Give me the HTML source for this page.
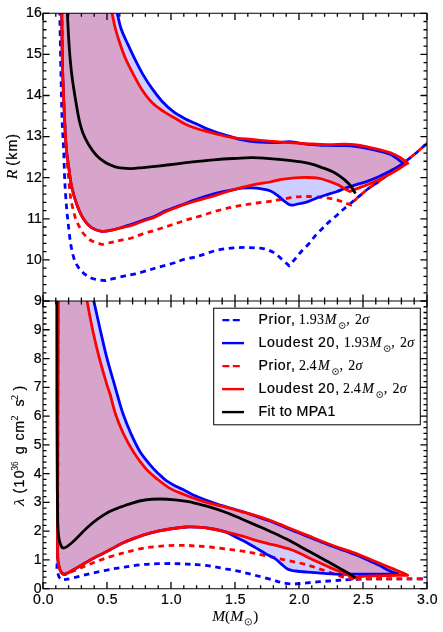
<!DOCTYPE html>
<html><head><meta charset="utf-8"><title>Mass-radius constraints</title>
<style>html,body{margin:0;padding:0;background:#fff;}svg{display:block;}text{font-family:"Liberation Sans", sans-serif;fill:#000;stroke:#000;stroke-width:0.22px;}text.m{font-family:"Liberation Serif", serif;stroke-width:0.1px;}</style></head><body>
<svg width="443" height="632" viewBox="0 0 443 632">
<rect x="0" y="0" width="443" height="632" fill="#ffffff"/>
<defs>
<clipPath id="ct"><rect x="43" y="13.3" width="384" height="287.7"/></clipPath>
<clipPath id="cb"><rect x="43" y="301" width="384" height="287.7"/></clipPath>
</defs>
<g opacity="0.999">
<g clip-path="url(#ct)" fill="none" stroke-linejoin="round">
<path d="M61.7 10C61.83 19.5 62.02 48.67 62.5 67C62.98 85.33 63.97 106.42 64.6 120C65.23 133.58 65.6 140.58 66.3 148.5C67 156.42 67.92 161.17 68.8 167.5C69.68 173.83 70.27 180.35 71.6 186.5C72.93 192.65 74.75 198.88 76.8 204.4C78.85 209.92 81.45 215.72 83.9 219.6C86.35 223.48 88.57 225.75 91.5 227.7C94.43 229.65 98.17 230.88 101.5 231.3C104.83 231.72 107.58 231.03 111.5 230.2C115.42 229.37 119.78 227.93 125 226.3C130.22 224.67 137.93 222.02 142.8 220.4C147.67 218.78 150.4 218.18 154.2 216.6C158 215.02 161.8 212.58 165.6 210.9C169.4 209.22 173.2 207.92 177 206.5C180.8 205.08 185.4 203.52 188.4 202.4C191.4 201.28 190.73 201.22 195 199.8C199.27 198.38 208.62 195.4 214 193.9C219.38 192.4 222.55 191.77 227.3 190.8C232.05 189.83 238.38 188.58 242.5 188.1C246.62 187.62 248.83 187.77 252 187.9C255.17 188.03 258.5 188.42 261.5 188.9C264.5 189.38 267.32 189.7 270 190.8C272.68 191.9 275.22 193.77 277.6 195.5C279.98 197.23 282.4 199.72 284.3 201.2C286.2 202.68 287.58 203.73 289 204.4C290.42 205.07 292.17 205.07 292.8 205.2C294.07 204.92 297.87 204.1 300.4 203.5C302.93 202.9 305.15 202.55 308 201.6C310.85 200.65 314.33 198.97 317.5 197.8C320.67 196.63 323.83 195.62 327 194.6C330.17 193.58 333.33 192.82 336.5 191.7C339.67 190.58 342.68 189.07 346 187.9C349.32 186.73 352.77 185.83 356.4 184.7C360.03 183.57 364 182.47 367.8 181.1C371.6 179.73 375.4 178.22 379.2 176.5C383 174.78 386.63 172.85 390.6 170.8C394.57 168.75 400.93 165.3 403 164.2C402.75 163.83 403.57 163.6 401.5 162C399.43 160.4 394.32 156.42 390.6 154.6C386.88 152.78 383 152.1 379.2 151.1C375.4 150.1 371.6 149.37 367.8 148.6C364 147.83 360.2 146.98 356.4 146.5C352.6 146.02 349.9 145.88 345 145.7C340.1 145.52 333.17 145.63 327 145.4C320.83 145.17 312.83 144.73 308 144.3C303.17 143.87 301.17 143.25 298 142.8C294.83 142.35 292.83 141.62 289 141.6C285.17 141.58 280.53 142.65 275 142.7C269.47 142.75 261.22 142.35 255.8 141.9C250.38 141.45 246.93 140.95 242.5 140C238.07 139.05 233.32 137.4 229.2 136.2C225.08 135 221.6 134.07 217.8 132.8C214 131.53 210.2 130.18 206.4 128.6C202.6 127.02 198.57 124.95 195 123.3C191.43 121.65 188.6 120.63 185 118.7C181.4 116.77 177.23 114.62 173.4 111.7C169.57 108.78 165.63 105.17 162 101.2C158.37 97.23 154.77 92.33 151.6 87.9C148.43 83.47 145.77 79.35 143 74.6C140.23 69.85 137.53 64.47 135 59.4C132.47 54.33 130.1 49.27 127.8 44.2C125.5 39.13 122.93 34.07 121.2 29C119.47 23.93 118.17 16.97 117.4 13.8C116.63 10.63 116.73 10.63 116.6 10Z" fill="#0000ff" fill-opacity="0.2" stroke="none"/>
<path d="M61.7 10C61.83 19.5 62.02 48.67 62.5 67C62.98 85.33 63.97 106.42 64.6 120C65.23 133.58 65.6 140.58 66.3 148.5C67 156.42 67.92 161.17 68.8 167.5C69.68 173.83 70.27 180.35 71.6 186.5C72.93 192.65 74.75 198.88 76.8 204.4C78.85 209.92 81.45 215.72 83.9 219.6C86.35 223.48 88.57 225.75 91.5 227.7C94.43 229.65 98.17 230.88 101.5 231.3C104.83 231.72 107.58 230.93 111.5 230.2C115.42 229.47 121.68 227.7 125 226.9C128.32 226.1 128.43 226.35 131.4 225.4C134.37 224.45 139 222.53 142.8 221.2C146.6 219.87 150.4 218.98 154.2 217.4C158 215.82 161.8 213.38 165.6 211.7C169.4 210.02 173.2 208.72 177 207.3C180.8 205.88 185.4 204.22 188.4 203.2C191.4 202.18 192 202.07 195 201.2C198 200.33 202.6 199.1 206.4 198C210.2 196.9 213.37 195.97 217.8 194.6C222.23 193.23 227.3 191.38 233 189.8C238.7 188.22 245.83 186.4 252 185.1C258.17 183.8 265.1 182.95 270 182C274.9 181.05 277.28 180.1 281.4 179.4C285.52 178.7 290.27 178.12 294.7 177.8C299.13 177.48 303.88 177.4 308 177.5C312.12 177.6 315.92 177.77 319.4 178.4C322.88 179.03 325.73 180.18 328.9 181.3C332.07 182.42 335.55 183.73 338.4 185.1C341.25 186.47 344.07 188.43 346 189.5C347.93 190.57 349.33 191.17 350 191.5C351.07 191.07 353.43 190.07 356.4 188.9C359.37 187.73 364 186.08 367.8 184.5C371.6 182.92 375.4 181.2 379.2 179.4C383 177.6 387.12 175.6 390.6 173.7C394.08 171.8 397.25 169.75 400.1 168C402.95 166.25 406.43 164 407.7 163.2C407.5 163 407.77 162.95 406.5 162C405.23 161.05 402.75 159.03 400.1 157.5C397.45 155.97 394.08 154.13 390.6 152.8C387.12 151.47 383 150.47 379.2 149.5C375.4 148.53 371.6 147.78 367.8 147C364 146.22 360.2 145.27 356.4 144.8C352.6 144.33 349.9 144.23 345 144.2C340.1 144.17 333.17 144.67 327 144.6C320.83 144.53 314.33 144.12 308 143.8C301.67 143.48 295 143.1 289 142.7C283 142.3 278.17 141.93 272 141.4C265.83 140.87 258.5 140.13 252 139.5C245.5 138.87 238.7 138.47 233 137.6C227.3 136.73 222.23 135.35 217.8 134.3C213.37 133.25 210.2 132.35 206.4 131.3C202.6 130.25 198.57 129.22 195 128C191.43 126.78 188.28 125.62 185 124C181.72 122.38 178.82 120.35 175.3 118.3C171.78 116.25 167.7 114.23 163.9 111.7C160.1 109.17 156.15 106.75 152.5 103.1C148.85 99.45 145.17 94.55 142 89.8C138.83 85.05 136.18 79.67 133.5 74.6C130.82 69.53 128.12 64.47 125.9 59.4C123.68 54.33 121.93 49.27 120.2 44.2C118.47 39.13 116.83 34.07 115.5 29C114.17 23.93 112.87 16.97 112.2 13.8C111.53 10.63 111.62 10.63 111.5 10Z" fill="#ff0000" fill-opacity="0.2" stroke="none"/>
<path d="M59.7 10C59.88 19.5 60.4 48.67 60.8 67C61.2 85.33 61.63 106.42 62.1 120C62.57 133.58 63.18 139 63.6 148.5C64.02 158 64.32 170.08 64.6 177C64.88 183.92 64.95 184.67 65.3 190C65.65 195.33 66.13 202.67 66.7 209C67.27 215.33 67.95 221.67 68.7 228C69.45 234.33 70.08 241.3 71.2 247C72.32 252.7 73.58 258.08 75.4 262.2C77.22 266.32 79.57 269.1 82.1 271.7C84.63 274.3 87.92 276.43 90.6 277.8C93.28 279.17 95.67 279.43 98.2 279.9C100.73 280.37 104.53 280.48 105.8 280.6C107.07 280.27 110.2 279.38 113.4 278.6C116.6 277.82 121.32 276.7 125 275.9C128.68 275.1 131.5 274.78 135.5 273.8C139.5 272.82 145.42 271.02 149 270C152.58 268.98 152.85 268.87 157 267.7C161.15 266.53 169.42 264.38 173.9 263C178.38 261.62 180.55 260.35 183.9 259.4C187.25 258.45 190.93 258.05 194 257.3C197.07 256.55 199.23 255.87 202.3 254.9C205.37 253.93 209.02 252.45 212.4 251.5C215.78 250.55 219.02 249.8 222.6 249.2C226.18 248.6 230.33 248.2 233.9 247.9C237.47 247.6 240.62 247.4 244 247.4C247.38 247.4 250.82 247.67 254.2 247.9C257.58 248.13 261.1 248.05 264.3 248.8C267.5 249.55 270.57 250.75 273.4 252.4C276.23 254.05 278.67 256.45 281.3 258.7C283.93 260.95 287.88 264.7 289.2 265.9C290.23 264.68 293.32 261.08 295.4 258.6C297.48 256.12 299.45 253.47 301.7 251C303.95 248.53 306.65 246.33 308.9 243.8C311.15 241.27 312.95 238.37 315.2 235.8C317.45 233.23 320.13 230.68 322.4 228.4C324.67 226.12 326.38 224.3 328.8 222.1C331.22 219.9 334.35 217.43 336.9 215.2C339.45 212.97 340.85 211.47 344.1 208.7C347.35 205.93 352.45 201.88 356.4 198.6C360.35 195.32 364 191.9 367.8 189C371.6 186.1 375.4 183.95 379.2 181.2C383 178.45 386.8 175.33 390.6 172.5C394.4 169.67 398.2 167.08 402 164.2C405.8 161.32 410.4 157.65 413.4 155.2C416.4 152.75 417.57 151.62 420 149.5C422.43 147.38 426.67 143.67 428 142.5" stroke="#0000ff" stroke-width="2.8" stroke-dasharray="5.6 4.6"/>
<path d="M62 10C62.08 19.5 62.07 48.67 62.5 67C62.93 85.33 63.97 106.42 64.6 120C65.23 133.58 65.83 141.22 66.3 148.5C66.77 155.78 66.9 157.37 67.4 163.7C67.9 170.03 68.65 180.22 69.3 186.5C69.95 192.78 70.28 196.15 71.3 201.4C72.32 206.65 74.12 213.9 75.4 218C76.68 222.1 77.73 223.5 79 226C80.27 228.5 81.38 230.87 83 233C84.62 235.13 87.12 237.42 88.7 238.8C90.28 240.18 90.28 240.35 92.5 241.3C94.72 242.25 100.42 243.97 102 244.5C103.58 244.13 108.5 242.98 111.5 242.3C114.5 241.62 116.68 241.12 120 240.4C123.32 239.68 127.6 239.1 131.4 238C135.2 236.9 139 235.05 142.8 233.8C146.6 232.55 150.4 231.67 154.2 230.5C158 229.33 161.8 228.02 165.6 226.8C169.4 225.58 173.2 224.45 177 223.2C180.8 221.95 184.57 220.47 188.4 219.3C192.23 218.13 195.73 217.47 200 216.2C204.27 214.93 208.5 213.25 214 211.7C219.5 210.15 226.67 208.23 233 206.9C239.33 205.57 245.83 204.63 252 203.7C258.17 202.77 265.1 202.02 270 201.3C274.9 200.58 277.28 200.12 281.4 199.4C285.52 198.68 290.27 197.48 294.7 197C299.13 196.52 303.25 196.43 308 196.5C312.75 196.57 318.77 196.93 323.2 197.4C327.63 197.87 331.22 198.5 334.6 199.3C337.98 200.1 340.77 201.25 343.5 202.2C346.23 203.15 349.75 204.53 351 205C351.9 203.93 355.5 199.67 356.4 198.6" stroke="#ff0000" stroke-width="2.8" stroke-dasharray="5.6 4.6"/>
<path d="M356.4 198.6C358.3 197 364 191.9 367.8 189C371.6 186.1 375.4 183.95 379.2 181.2C383 178.45 386.8 175.33 390.6 172.5C394.4 169.67 398.2 167.08 402 164.2C405.8 161.32 410.4 157.65 413.4 155.2C416.4 152.75 417.57 151.62 420 149.5C422.43 147.38 426.67 143.67 428 142.5" stroke="#ff0000" stroke-width="2.8" stroke-dasharray="5.6 4.6" stroke-dashoffset="3.65"/>
<path d="M61.7 10C61.83 19.5 62.02 48.67 62.5 67C62.98 85.33 63.97 106.42 64.6 120C65.23 133.58 65.6 140.58 66.3 148.5C67 156.42 67.92 161.17 68.8 167.5C69.68 173.83 70.27 180.35 71.6 186.5C72.93 192.65 74.75 198.88 76.8 204.4C78.85 209.92 81.45 215.72 83.9 219.6C86.35 223.48 88.57 225.75 91.5 227.7C94.43 229.65 98.17 230.88 101.5 231.3C104.83 231.72 107.58 231.03 111.5 230.2C115.42 229.37 119.78 227.93 125 226.3C130.22 224.67 137.93 222.02 142.8 220.4C147.67 218.78 150.4 218.18 154.2 216.6C158 215.02 161.8 212.58 165.6 210.9C169.4 209.22 173.2 207.92 177 206.5C180.8 205.08 185.4 203.52 188.4 202.4C191.4 201.28 190.73 201.22 195 199.8C199.27 198.38 208.62 195.4 214 193.9C219.38 192.4 222.55 191.77 227.3 190.8C232.05 189.83 238.38 188.58 242.5 188.1C246.62 187.62 248.83 187.77 252 187.9C255.17 188.03 258.5 188.42 261.5 188.9C264.5 189.38 267.32 189.7 270 190.8C272.68 191.9 275.22 193.77 277.6 195.5C279.98 197.23 282.4 199.72 284.3 201.2C286.2 202.68 287.58 203.73 289 204.4C290.42 205.07 292.17 205.07 292.8 205.2C294.07 204.92 297.87 204.1 300.4 203.5C302.93 202.9 305.15 202.55 308 201.6C310.85 200.65 314.33 198.97 317.5 197.8C320.67 196.63 323.83 195.62 327 194.6C330.17 193.58 333.33 192.82 336.5 191.7C339.67 190.58 342.68 189.07 346 187.9C349.32 186.73 352.77 185.83 356.4 184.7C360.03 183.57 364 182.47 367.8 181.1C371.6 179.73 375.4 178.22 379.2 176.5C383 174.78 386.63 172.85 390.6 170.8C394.57 168.75 400.93 165.3 403 164.2C402.75 163.83 403.57 163.6 401.5 162C399.43 160.4 394.32 156.42 390.6 154.6C386.88 152.78 383 152.1 379.2 151.1C375.4 150.1 371.6 149.37 367.8 148.6C364 147.83 360.2 146.98 356.4 146.5C352.6 146.02 349.9 145.88 345 145.7C340.1 145.52 333.17 145.63 327 145.4C320.83 145.17 312.83 144.73 308 144.3C303.17 143.87 301.17 143.25 298 142.8C294.83 142.35 292.83 141.62 289 141.6C285.17 141.58 280.53 142.65 275 142.7C269.47 142.75 261.22 142.35 255.8 141.9C250.38 141.45 246.93 140.95 242.5 140C238.07 139.05 233.32 137.4 229.2 136.2C225.08 135 221.6 134.07 217.8 132.8C214 131.53 210.2 130.18 206.4 128.6C202.6 127.02 198.57 124.95 195 123.3C191.43 121.65 188.6 120.63 185 118.7C181.4 116.77 177.23 114.62 173.4 111.7C169.57 108.78 165.63 105.17 162 101.2C158.37 97.23 154.77 92.33 151.6 87.9C148.43 83.47 145.77 79.35 143 74.6C140.23 69.85 137.53 64.47 135 59.4C132.47 54.33 130.1 49.27 127.8 44.2C125.5 39.13 122.93 34.07 121.2 29C119.47 23.93 118.17 16.97 117.4 13.8C116.63 10.63 116.73 10.63 116.6 10" stroke="#0000ff" stroke-width="2.8"/>
<path d="M61.7 10C61.83 19.5 62.02 48.67 62.5 67C62.98 85.33 63.97 106.42 64.6 120C65.23 133.58 65.6 140.58 66.3 148.5C67 156.42 67.92 161.17 68.8 167.5C69.68 173.83 70.27 180.35 71.6 186.5C72.93 192.65 74.75 198.88 76.8 204.4C78.85 209.92 81.45 215.72 83.9 219.6C86.35 223.48 88.57 225.75 91.5 227.7C94.43 229.65 98.17 230.88 101.5 231.3C104.83 231.72 107.58 230.93 111.5 230.2C115.42 229.47 121.68 227.7 125 226.9C128.32 226.1 128.43 226.35 131.4 225.4C134.37 224.45 139 222.53 142.8 221.2C146.6 219.87 150.4 218.98 154.2 217.4C158 215.82 161.8 213.38 165.6 211.7C169.4 210.02 173.2 208.72 177 207.3C180.8 205.88 185.4 204.22 188.4 203.2C191.4 202.18 192 202.07 195 201.2C198 200.33 202.6 199.1 206.4 198C210.2 196.9 213.37 195.97 217.8 194.6C222.23 193.23 227.3 191.38 233 189.8C238.7 188.22 245.83 186.4 252 185.1C258.17 183.8 265.1 182.95 270 182C274.9 181.05 277.28 180.1 281.4 179.4C285.52 178.7 290.27 178.12 294.7 177.8C299.13 177.48 303.88 177.4 308 177.5C312.12 177.6 315.92 177.77 319.4 178.4C322.88 179.03 325.73 180.18 328.9 181.3C332.07 182.42 335.55 183.73 338.4 185.1C341.25 186.47 344.07 188.43 346 189.5C347.93 190.57 349.33 191.17 350 191.5C351.07 191.07 353.43 190.07 356.4 188.9C359.37 187.73 364 186.08 367.8 184.5C371.6 182.92 375.4 181.2 379.2 179.4C383 177.6 387.12 175.6 390.6 173.7C394.08 171.8 397.25 169.75 400.1 168C402.95 166.25 406.43 164 407.7 163.2C407.5 163 407.77 162.95 406.5 162C405.23 161.05 402.75 159.03 400.1 157.5C397.45 155.97 394.08 154.13 390.6 152.8C387.12 151.47 383 150.47 379.2 149.5C375.4 148.53 371.6 147.78 367.8 147C364 146.22 360.2 145.27 356.4 144.8C352.6 144.33 349.9 144.23 345 144.2C340.1 144.17 333.17 144.67 327 144.6C320.83 144.53 314.33 144.12 308 143.8C301.67 143.48 295 143.1 289 142.7C283 142.3 278.17 141.93 272 141.4C265.83 140.87 258.5 140.13 252 139.5C245.5 138.87 238.7 138.47 233 137.6C227.3 136.73 222.23 135.35 217.8 134.3C213.37 133.25 210.2 132.35 206.4 131.3C202.6 130.25 198.57 129.22 195 128C191.43 126.78 188.28 125.62 185 124C181.72 122.38 178.82 120.35 175.3 118.3C171.78 116.25 167.7 114.23 163.9 111.7C160.1 109.17 156.15 106.75 152.5 103.1C148.85 99.45 145.17 94.55 142 89.8C138.83 85.05 136.18 79.67 133.5 74.6C130.82 69.53 128.12 64.47 125.9 59.4C123.68 54.33 121.93 49.27 120.2 44.2C118.47 39.13 116.83 34.07 115.5 29C114.17 23.93 112.87 16.97 112.2 13.8C111.53 10.63 111.62 10.63 111.5 10" stroke="#ff0000" stroke-width="2.8"/>
<path d="M67.2 10C67.55 16.33 68.5 36.92 69.3 48C70.1 59.08 70.82 67 72 76.5C73.18 86 75.2 97.75 76.4 105C77.6 112.25 78.1 115.28 79.2 120C80.3 124.72 81.42 129.18 83 133.3C84.58 137.42 86.48 141.05 88.7 144.7C90.92 148.35 93.45 152.18 96.3 155.2C99.15 158.22 102.63 160.87 105.8 162.8C108.97 164.73 112.43 165.9 115.3 166.8C118.17 167.7 120.32 167.9 123 168.2C125.68 168.5 128.1 168.7 131.4 168.6C134.7 168.5 138.37 168.02 142.8 167.6C147.23 167.18 152.3 166.73 158 166.1C163.7 165.47 170.83 164.53 177 163.8C183.17 163.07 188.83 162.37 195 161.7C201.17 161.03 207.67 160.33 214 159.8C220.33 159.27 226.67 158.85 233 158.5C239.33 158.15 245.83 157.68 252 157.7C258.17 157.72 263.83 158.15 270 158.6C276.17 159.05 282.67 159.63 289 160.4C295.33 161.17 302.3 161.93 308 163.2C313.7 164.47 318.77 166.42 323.2 168C327.63 169.58 331.12 170.8 334.6 172.7C338.08 174.6 341.42 177.18 344.1 179.4C346.78 181.62 348.8 183.63 350.7 186C352.6 188.37 354.7 192.33 355.5 193.6" stroke="#000" stroke-width="2.8"/>
</g>
<g clip-path="url(#cb)" fill="none" stroke-linejoin="round">
<path d="M58 298C57.98 306.67 57.93 333 57.9 350C57.87 367 57.83 383.33 57.8 400C57.77 416.67 57.73 433.33 57.7 450C57.67 466.67 57.63 485.83 57.6 500C57.57 514.17 57.52 526.33 57.5 535C57.48 543.67 57.45 547.95 57.5 552C57.55 556.05 57.55 556.82 57.8 559.3C58.05 561.78 58.4 564.72 59 566.9C59.6 569.08 60.57 571.2 61.4 572.4C62.23 573.6 62.93 574.02 64 574.1C65.07 574.18 65.9 573.78 67.8 572.9C69.7 572.02 72.23 570.62 75.4 568.8C78.57 566.98 83 564.17 86.8 562C90.6 559.83 94.4 557.8 98.2 555.8C102 553.8 105.8 552 109.6 550C113.4 548 117.37 545.57 121 543.8C124.63 542.03 127.45 540.93 131.4 539.4C135.35 537.87 140.27 535.97 144.7 534.6C149.13 533.23 153.25 532.22 158 531.2C162.75 530.18 168.45 529.2 173.2 528.5C177.95 527.8 182.53 527.22 186.5 527C190.47 526.78 193.05 526.95 197 527.2C200.95 527.45 205.47 527.73 210.2 528.5C214.93 529.27 221.6 530.62 225.4 531.8C229.2 532.98 229.83 534.02 233 535.6C236.17 537.18 240.6 539.25 244.4 541.3C248.2 543.35 252 545.68 255.8 547.9C259.6 550.12 263.93 552.78 267.2 554.6C270.47 556.42 273.03 557.22 275.4 558.8C277.77 560.38 279.45 562.43 281.4 564.1C283.35 565.77 285.2 567.7 287.1 568.8C289 569.9 291.85 570.38 292.8 570.7C295.33 570.95 302.3 571.72 308 572.2C313.7 572.68 321.3 573.25 327 573.6C332.7 573.95 337.3 574.2 342.2 574.3C347.1 574.4 350.23 574.22 356.4 574.2C362.57 574.18 372.23 574.22 379.2 574.2C386.17 574.18 395.03 574.12 398.2 574.1C397.88 573.98 397.88 574.02 396.3 573.4C394.72 572.78 391.55 571.75 388.7 570.4C385.85 569.05 382.68 567.03 379.2 565.3C375.72 563.57 371.6 561.72 367.8 560C364 558.28 360.2 556.53 356.4 555C352.6 553.47 349.9 552.6 345 550.8C340.1 549 333.17 546.57 327 544.2C320.83 541.83 314.33 539.13 308 536.6C301.67 534.07 295.33 531.6 289 529C282.67 526.4 275.53 523.13 270 521C264.47 518.87 260.7 517.87 255.8 516.2C250.9 514.53 245.67 512.6 240.6 511C235.53 509.4 229.2 507.7 225.4 506.6C221.6 505.5 220.97 505.43 217.8 504.4C214.63 503.37 209.78 501.68 206.4 500.4C203.02 499.12 199.87 497.68 197.5 496.7C195.13 495.72 194.62 495.68 192.2 494.5C189.78 493.32 185.82 491.02 183 489.6C180.18 488.18 177.88 487.37 175.3 486C172.72 484.63 169.4 482.63 167.5 481.4C165.6 480.17 166.25 480.73 163.9 478.6C161.55 476.47 157.35 473.03 153.4 468.6C149.45 464.17 143.98 457.93 140.2 452C136.42 446.07 133.55 439.33 130.7 433C127.85 426.67 125.32 420.33 123.1 414C120.88 407.67 118.85 399.95 117.4 395C115.95 390.05 116.17 390.52 114.4 384.3C112.63 378.08 109.18 366.88 106.8 357.7C104.42 348.52 102.23 338.53 100.1 329.2C97.97 319.87 95.13 306.9 94 301.7C92.87 296.5 93.42 298.62 93.3 298Z" fill="#0000ff" fill-opacity="0.2" stroke="none"/>
<path d="M58 298C57.98 306.67 57.93 333 57.9 350C57.87 367 57.83 383.33 57.8 400C57.77 416.67 57.73 433.33 57.7 450C57.67 466.67 57.63 485.83 57.6 500C57.57 514.17 57.52 526.33 57.5 535C57.48 543.67 57.45 547.95 57.5 552C57.55 556.05 57.55 556.82 57.8 559.3C58.05 561.78 58.4 564.72 59 566.9C59.6 569.08 60.57 571.2 61.4 572.4C62.23 573.6 62.93 574.02 64 574.1C65.07 574.18 65.9 573.78 67.8 572.9C69.7 572.02 72.23 570.62 75.4 568.8C78.57 566.98 83 564.17 86.8 562C90.6 559.83 94.4 557.8 98.2 555.8C102 553.8 105.8 552 109.6 550C113.4 548 117.37 545.57 121 543.8C124.63 542.03 127.45 540.93 131.4 539.4C135.35 537.87 140.27 535.97 144.7 534.6C149.13 533.23 153.25 532.22 158 531.2C162.75 530.18 168.45 529.2 173.2 528.5C177.95 527.8 182.53 527.22 186.5 527C190.47 526.78 193.05 526.95 197 527.2C200.95 527.45 205.47 527.73 210.2 528.5C214.93 529.27 220.33 530.62 225.4 531.8C230.47 532.98 235.53 534.18 240.6 535.6C245.67 537.02 251.37 539 255.8 540.3C260.23 541.6 263.25 542.4 267.2 543.4C271.15 544.4 275.87 545.38 279.5 546.3C283.13 547.22 285.83 547.83 289 548.9C292.17 549.97 295.33 551.28 298.5 552.7C301.67 554.12 304.52 555.73 308 557.4C311.48 559.07 315.6 560.95 319.4 562.7C323.2 564.45 327 566.25 330.8 567.9C334.6 569.55 339 571.25 342.2 572.6C345.4 573.95 348.2 575.13 350 576C351.8 576.87 352.5 577.5 353 577.8C354.17 577.58 356.67 576.83 360 576.5C363.33 576.17 367.83 575.97 373 575.8C378.17 575.63 385.22 575.58 391 575.5C396.78 575.42 404.92 575.33 407.7 575.3C406.75 574.85 404.85 573.83 402 572.6C399.15 571.37 394.4 569.48 390.6 567.9C386.8 566.32 383 564.68 379.2 563.1C375.4 561.52 371.6 559.98 367.8 558.4C364 556.82 359.87 554.93 356.4 553.6C352.93 552.27 351.9 552.13 347 550.4C342.1 548.67 333.5 545.67 327 543.2C320.5 540.73 314.33 538.13 308 535.6C301.67 533.07 295 530.43 289 528C283 525.57 277.53 523.07 272 521C266.47 518.93 261.03 517.2 255.8 515.6C250.57 514 245.67 512.82 240.6 511.4C235.53 509.98 230.47 508.45 225.4 507.1C220.33 505.75 214.93 504.6 210.2 503.3C205.47 502 201.27 500.73 197 499.3C192.73 497.87 189.03 496.48 184.6 494.7C180.17 492.92 174.97 491.22 170.4 488.6C165.83 485.98 161.3 482.33 157.2 479C153.1 475.67 149.75 473.1 145.8 468.6C141.85 464.1 137.28 457.93 133.5 452C129.72 446.07 126.1 439.33 123.1 433C120.1 426.67 117.63 420.33 115.5 414C113.37 407.67 111.75 399.95 110.3 395C108.85 390.05 108.65 390.52 106.8 384.3C104.95 378.08 101.58 366.88 99.2 357.7C96.82 348.52 94.5 338.53 92.5 329.2C90.5 319.87 88.2 306.9 87.2 301.7C86.2 296.5 86.62 298.62 86.5 298Z" fill="#ff0000" fill-opacity="0.2" stroke="none"/>
<path d="M57.6 298C57.6 315 57.6 366.33 57.6 400C57.6 433.67 57.6 475 57.6 500C57.6 525 57.67 539.67 57.6 550C57.53 560.33 57.3 558.83 57.2 562C57.1 565.17 56.7 566.53 57 569C57.3 571.47 58.2 574.97 59 576.8C59.8 578.63 61.33 579.47 61.8 580C62.8 579.85 64.9 579.7 67.8 579.1C70.7 578.5 75.4 577.32 79.2 576.4C83 575.48 86.8 574.48 90.6 573.6C94.4 572.72 98.2 571.9 102 571.1C105.8 570.3 110.07 569.38 113.4 568.8C116.73 568.22 119 568.07 122 567.6C125 567.13 127.62 566.53 131.4 566C135.18 565.47 140.27 564.78 144.7 564.4C149.13 564.02 153.25 563.85 158 563.7C162.75 563.55 168.45 563.43 173.2 563.5C177.95 563.57 182.7 563.92 186.5 564.1C190.3 564.28 192.05 564.28 196 564.6C199.95 564.92 205.3 565.3 210.2 566C215.1 566.7 220.33 567.85 225.4 568.8C230.47 569.75 235.53 570.58 240.6 571.7C245.67 572.82 250.57 574.17 255.8 575.5C261.03 576.83 267.73 578.53 272 579.7C276.27 580.87 277.93 581.78 281.4 582.5C284.87 583.22 289 583.9 292.8 584C296.6 584.1 299.77 583.48 304.2 583.1C308.63 582.72 314.33 582.12 319.4 581.7C324.47 581.28 329.5 580.95 334.6 580.6C339.7 580.25 343.6 579.9 350 579.6C356.4 579.3 366.17 578.93 373 578.8C379.83 578.67 385 578.8 391 578.8C397 578.8 402.83 578.8 409 578.8C415.17 578.8 424.83 578.8 428 578.8" stroke="#0000ff" stroke-width="2.8" stroke-dasharray="5.6 4.6"/>
<path d="M57.9 298C57.9 315 57.92 366.33 57.9 400C57.88 433.67 57.82 474.67 57.8 500C57.78 525.33 57.7 541.67 57.8 552C57.9 562.33 57.97 558.95 58.4 562C58.83 565.05 59.47 568.2 60.4 570.3C61.33 572.4 62.13 574.35 64 574.6C65.87 574.85 68.43 573.08 71.6 571.8C74.77 570.52 79.2 568.48 83 566.9C86.8 565.32 90.6 563.75 94.4 562.3C98.2 560.85 102 559.48 105.8 558.2C109.6 556.92 114.33 555.47 117.2 554.6C120.07 553.73 120.63 553.63 123 553C125.37 552.37 127.78 551.65 131.4 550.8C135.02 549.95 140.27 548.63 144.7 547.9C149.13 547.17 153.25 546.82 158 546.4C162.75 545.98 168.45 545.57 173.2 545.4C177.95 545.23 182.53 545.3 186.5 545.4C190.47 545.5 193.05 545.73 197 546C200.95 546.27 205.47 546.52 210.2 547C214.93 547.48 220.33 548.27 225.4 548.9C230.47 549.53 235.53 550.02 240.6 550.8C245.67 551.58 250.17 552.47 255.8 553.6C261.43 554.73 268.87 556.4 274.4 557.6C279.93 558.8 284.03 559.72 289 560.8C293.97 561.88 299.13 562.77 304.2 564.1C309.27 565.43 314.33 567.13 319.4 568.8C324.47 570.47 330.17 572.55 334.6 574.1C339.03 575.65 342.6 577.3 346 578.1C349.4 578.9 353.5 578.77 355 578.9" stroke="#ff0000" stroke-width="2.8" stroke-dasharray="5.6 4.6"/>
<path d="M355 578.9C358 578.88 367 578.82 373 578.8C379 578.78 385 578.8 391 578.8C397 578.8 402.83 578.8 409 578.8C415.17 578.8 424.83 578.8 428 578.8" stroke="#ff0000" stroke-width="2.8" stroke-dasharray="5.6 4.6" stroke-dashoffset="9.61"/>
<path d="M58 298C57.98 306.67 57.93 333 57.9 350C57.87 367 57.83 383.33 57.8 400C57.77 416.67 57.73 433.33 57.7 450C57.67 466.67 57.63 485.83 57.6 500C57.57 514.17 57.52 526.33 57.5 535C57.48 543.67 57.45 547.95 57.5 552C57.55 556.05 57.55 556.82 57.8 559.3C58.05 561.78 58.4 564.72 59 566.9C59.6 569.08 60.57 571.2 61.4 572.4C62.23 573.6 62.93 574.02 64 574.1C65.07 574.18 65.9 573.78 67.8 572.9C69.7 572.02 72.23 570.62 75.4 568.8C78.57 566.98 83 564.17 86.8 562C90.6 559.83 94.4 557.8 98.2 555.8C102 553.8 105.8 552 109.6 550C113.4 548 117.37 545.57 121 543.8C124.63 542.03 127.45 540.93 131.4 539.4C135.35 537.87 140.27 535.97 144.7 534.6C149.13 533.23 153.25 532.22 158 531.2C162.75 530.18 168.45 529.2 173.2 528.5C177.95 527.8 182.53 527.22 186.5 527C190.47 526.78 193.05 526.95 197 527.2C200.95 527.45 205.47 527.73 210.2 528.5C214.93 529.27 221.6 530.62 225.4 531.8C229.2 532.98 229.83 534.02 233 535.6C236.17 537.18 240.6 539.25 244.4 541.3C248.2 543.35 252 545.68 255.8 547.9C259.6 550.12 263.93 552.78 267.2 554.6C270.47 556.42 273.03 557.22 275.4 558.8C277.77 560.38 279.45 562.43 281.4 564.1C283.35 565.77 285.2 567.7 287.1 568.8C289 569.9 291.85 570.38 292.8 570.7C295.33 570.95 302.3 571.72 308 572.2C313.7 572.68 321.3 573.25 327 573.6C332.7 573.95 337.3 574.2 342.2 574.3C347.1 574.4 350.23 574.22 356.4 574.2C362.57 574.18 372.23 574.22 379.2 574.2C386.17 574.18 395.03 574.12 398.2 574.1C397.88 573.98 397.88 574.02 396.3 573.4C394.72 572.78 391.55 571.75 388.7 570.4C385.85 569.05 382.68 567.03 379.2 565.3C375.72 563.57 371.6 561.72 367.8 560C364 558.28 360.2 556.53 356.4 555C352.6 553.47 349.9 552.6 345 550.8C340.1 549 333.17 546.57 327 544.2C320.83 541.83 314.33 539.13 308 536.6C301.67 534.07 295.33 531.6 289 529C282.67 526.4 275.53 523.13 270 521C264.47 518.87 260.7 517.87 255.8 516.2C250.9 514.53 245.67 512.6 240.6 511C235.53 509.4 229.2 507.7 225.4 506.6C221.6 505.5 220.97 505.43 217.8 504.4C214.63 503.37 209.78 501.68 206.4 500.4C203.02 499.12 199.87 497.68 197.5 496.7C195.13 495.72 194.62 495.68 192.2 494.5C189.78 493.32 185.82 491.02 183 489.6C180.18 488.18 177.88 487.37 175.3 486C172.72 484.63 169.4 482.63 167.5 481.4C165.6 480.17 166.25 480.73 163.9 478.6C161.55 476.47 157.35 473.03 153.4 468.6C149.45 464.17 143.98 457.93 140.2 452C136.42 446.07 133.55 439.33 130.7 433C127.85 426.67 125.32 420.33 123.1 414C120.88 407.67 118.85 399.95 117.4 395C115.95 390.05 116.17 390.52 114.4 384.3C112.63 378.08 109.18 366.88 106.8 357.7C104.42 348.52 102.23 338.53 100.1 329.2C97.97 319.87 95.13 306.9 94 301.7C92.87 296.5 93.42 298.62 93.3 298" stroke="#0000ff" stroke-width="2.8"/>
<path d="M58 298C57.98 306.67 57.93 333 57.9 350C57.87 367 57.83 383.33 57.8 400C57.77 416.67 57.73 433.33 57.7 450C57.67 466.67 57.63 485.83 57.6 500C57.57 514.17 57.52 526.33 57.5 535C57.48 543.67 57.45 547.95 57.5 552C57.55 556.05 57.55 556.82 57.8 559.3C58.05 561.78 58.4 564.72 59 566.9C59.6 569.08 60.57 571.2 61.4 572.4C62.23 573.6 62.93 574.02 64 574.1C65.07 574.18 65.9 573.78 67.8 572.9C69.7 572.02 72.23 570.62 75.4 568.8C78.57 566.98 83 564.17 86.8 562C90.6 559.83 94.4 557.8 98.2 555.8C102 553.8 105.8 552 109.6 550C113.4 548 117.37 545.57 121 543.8C124.63 542.03 127.45 540.93 131.4 539.4C135.35 537.87 140.27 535.97 144.7 534.6C149.13 533.23 153.25 532.22 158 531.2C162.75 530.18 168.45 529.2 173.2 528.5C177.95 527.8 182.53 527.22 186.5 527C190.47 526.78 193.05 526.95 197 527.2C200.95 527.45 205.47 527.73 210.2 528.5C214.93 529.27 220.33 530.62 225.4 531.8C230.47 532.98 235.53 534.18 240.6 535.6C245.67 537.02 251.37 539 255.8 540.3C260.23 541.6 263.25 542.4 267.2 543.4C271.15 544.4 275.87 545.38 279.5 546.3C283.13 547.22 285.83 547.83 289 548.9C292.17 549.97 295.33 551.28 298.5 552.7C301.67 554.12 304.52 555.73 308 557.4C311.48 559.07 315.6 560.95 319.4 562.7C323.2 564.45 327 566.25 330.8 567.9C334.6 569.55 339 571.25 342.2 572.6C345.4 573.95 348.2 575.13 350 576C351.8 576.87 352.5 577.5 353 577.8C354.17 577.58 356.67 576.83 360 576.5C363.33 576.17 367.83 575.97 373 575.8C378.17 575.63 385.22 575.58 391 575.5C396.78 575.42 404.92 575.33 407.7 575.3C406.75 574.85 404.85 573.83 402 572.6C399.15 571.37 394.4 569.48 390.6 567.9C386.8 566.32 383 564.68 379.2 563.1C375.4 561.52 371.6 559.98 367.8 558.4C364 556.82 359.87 554.93 356.4 553.6C352.93 552.27 351.9 552.13 347 550.4C342.1 548.67 333.5 545.67 327 543.2C320.5 540.73 314.33 538.13 308 535.6C301.67 533.07 295 530.43 289 528C283 525.57 277.53 523.07 272 521C266.47 518.93 261.03 517.2 255.8 515.6C250.57 514 245.67 512.82 240.6 511.4C235.53 509.98 230.47 508.45 225.4 507.1C220.33 505.75 214.93 504.6 210.2 503.3C205.47 502 201.27 500.73 197 499.3C192.73 497.87 189.03 496.48 184.6 494.7C180.17 492.92 174.97 491.22 170.4 488.6C165.83 485.98 161.3 482.33 157.2 479C153.1 475.67 149.75 473.1 145.8 468.6C141.85 464.1 137.28 457.93 133.5 452C129.72 446.07 126.1 439.33 123.1 433C120.1 426.67 117.63 420.33 115.5 414C113.37 407.67 111.75 399.95 110.3 395C108.85 390.05 108.65 390.52 106.8 384.3C104.95 378.08 101.58 366.88 99.2 357.7C96.82 348.52 94.5 338.53 92.5 329.2C90.5 319.87 88.2 306.9 87.2 301.7C86.2 296.5 86.62 298.62 86.5 298" stroke="#ff0000" stroke-width="2.8"/>
<path d="M56.8 298C56.81 306.67 56.83 333 56.85 350C56.87 367 56.86 383.33 56.9 400C56.94 416.67 57.03 435 57.1 450C57.17 465 57.22 479.67 57.3 490C57.38 500.33 57.5 505.83 57.6 512C57.7 518.17 57.62 522.28 57.9 527C58.18 531.72 58.67 536.97 59.3 540.3C59.93 543.63 60.92 545.73 61.7 547C62.48 548.27 62.98 548.07 64 547.9C65.02 547.73 65.9 547.42 67.8 546C69.7 544.58 72.23 542.4 75.4 539.4C78.57 536.4 83 531.45 86.8 528C90.6 524.55 94.4 521.43 98.2 518.7C102 515.97 105.97 513.5 109.6 511.6C113.23 509.7 116.37 508.68 120 507.3C123.63 505.92 127.28 504.52 131.4 503.3C135.52 502.08 139.93 500.72 144.7 500C149.47 499.28 154.95 499.03 160 499C165.05 498.97 170.27 499.35 175 499.8C179.73 500.25 184.73 501.05 188.4 501.7C192.07 502.35 193.37 502.8 197 503.7C200.63 504.6 205.47 505.68 210.2 507.1C214.93 508.52 220.33 510.3 225.4 512.2C230.47 514.1 235.53 516.35 240.6 518.5C245.67 520.65 250.57 522.82 255.8 525.1C261.03 527.38 266.47 529.67 272 532.2C277.53 534.73 283 537.2 289 540.3C295 543.4 301.67 547.32 308 550.8C314.33 554.28 321.3 558.03 327 561.2C332.7 564.37 338.37 567.65 342.2 569.8C346.03 571.95 347.78 572.75 350 574.1C352.22 575.45 354.58 577.27 355.5 577.9" stroke="#000" stroke-width="2.8"/>
</g>
<rect x="213.7" y="308.2" width="206.6" height="116.6" fill="#fff" stroke="#000" stroke-width="1"/>
<path d="M222.4 320.1 h7 M232.8 320.1 h7" stroke="#0000ff" stroke-width="2.4" fill="none"/>
<text x="258.5" y="324.4" font-size="14.2" textLength="36.4" lengthAdjust="spacing">Prior,</text>
<text x="298.7" y="324.4" class="m" font-size="14.0" textLength="25.3" lengthAdjust="spacing">1.93</text>
<text x="324.7" y="324.4" class="m" font-style="italic" font-size="14.0">M</text>
<circle cx="342.2" cy="325.6" r="2.9" fill="none" stroke="#000" stroke-width="0.8"/>
<circle cx="342.2" cy="325.6" r="0.75" fill="#000"/>
<text x="346.3" y="324.4" class="m" font-size="14.0">,</text>
<text x="354.9" y="324.4" class="m" font-size="14.0">2<tspan font-style="italic" dx="0.3">σ</tspan></text>
<path d="M222 343.1 H244" stroke="#0000ff" stroke-width="2.4" fill="none"/>
<text x="258.5" y="347.4" font-size="14.2" textLength="80.6" lengthAdjust="spacing">Loudest 20,</text>
<text x="343.7" y="347.4" class="m" font-size="14.0" textLength="25.3" lengthAdjust="spacing">1.93</text>
<text x="369.7" y="347.4" class="m" font-style="italic" font-size="14.0">M</text>
<circle cx="387.2" cy="348.6" r="2.9" fill="none" stroke="#000" stroke-width="0.8"/>
<circle cx="387.2" cy="348.6" r="0.75" fill="#000"/>
<text x="391.3" y="347.4" class="m" font-size="14.0">,</text>
<text x="399.9" y="347.4" class="m" font-size="14.0">2<tspan font-style="italic" dx="0.3">σ</tspan></text>
<path d="M222.4 366.1 h7 M232.8 366.1 h7" stroke="#ff0000" stroke-width="2.4" fill="none"/>
<text x="258.5" y="370.4" font-size="14.2" textLength="36.4" lengthAdjust="spacing">Prior,</text>
<text x="298.9" y="370.4" class="m" font-size="14.0" textLength="17.7" lengthAdjust="spacing">2.4</text>
<text x="318" y="370.4" class="m" font-style="italic" font-size="14.0">M</text>
<circle cx="335.5" cy="371.6" r="2.9" fill="none" stroke="#000" stroke-width="0.8"/>
<circle cx="335.5" cy="371.6" r="0.75" fill="#000"/>
<text x="339.6" y="370.4" class="m" font-size="14.0">,</text>
<text x="348.2" y="370.4" class="m" font-size="14.0">2<tspan font-style="italic" dx="0.3">σ</tspan></text>
<path d="M222 389.1 H244" stroke="#ff0000" stroke-width="2.4" fill="none"/>
<text x="258.5" y="393.4" font-size="14.2" textLength="80.6" lengthAdjust="spacing">Loudest 20,</text>
<text x="343.1" y="393.4" class="m" font-size="14.0" textLength="17.7" lengthAdjust="spacing">2.4</text>
<text x="362.2" y="393.4" class="m" font-style="italic" font-size="14.0">M</text>
<circle cx="379.7" cy="394.6" r="2.9" fill="none" stroke="#000" stroke-width="0.8"/>
<circle cx="379.7" cy="394.6" r="0.75" fill="#000"/>
<text x="383.8" y="393.4" class="m" font-size="14.0">,</text>
<text x="392.4" y="393.4" class="m" font-size="14.0">2<tspan font-style="italic" dx="0.3">σ</tspan></text>
<path d="M222 412.1 H244" stroke="#000" stroke-width="2.4" fill="none"/>
<text x="258.5" y="416.4" font-size="14.2" textLength="76.8" lengthAdjust="spacing">Fit to MPA1</text>
<path d="M43 13.3v6.6M55.8 13.3v3.5M68.6 13.3v3.5M81.4 13.3v3.5M94.2 13.3v3.5M107 13.3v6.6M119.8 13.3v3.5M132.6 13.3v3.5M145.4 13.3v3.5M158.2 13.3v3.5M171 13.3v6.6M183.8 13.3v3.5M196.6 13.3v3.5M209.4 13.3v3.5M222.2 13.3v3.5M235 13.3v6.6M247.8 13.3v3.5M260.6 13.3v3.5M273.4 13.3v3.5M286.2 13.3v3.5M299 13.3v6.6M311.8 13.3v3.5M324.6 13.3v3.5M337.4 13.3v3.5M350.2 13.3v3.5M363 13.3v6.6M375.8 13.3v3.5M388.6 13.3v3.5M401.4 13.3v3.5M414.2 13.3v3.5M427 13.3v6.6M43 301v6.6M43 301v-6.6M55.8 301v3.5M55.8 301v-3.5M68.6 301v3.5M68.6 301v-3.5M81.4 301v3.5M81.4 301v-3.5M94.2 301v3.5M94.2 301v-3.5M107 301v6.6M107 301v-6.6M119.8 301v3.5M119.8 301v-3.5M132.6 301v3.5M132.6 301v-3.5M145.4 301v3.5M145.4 301v-3.5M158.2 301v3.5M158.2 301v-3.5M171 301v6.6M171 301v-6.6M183.8 301v3.5M183.8 301v-3.5M196.6 301v3.5M196.6 301v-3.5M209.4 301v3.5M209.4 301v-3.5M222.2 301v3.5M222.2 301v-3.5M235 301v6.6M235 301v-6.6M247.8 301v3.5M247.8 301v-3.5M260.6 301v3.5M260.6 301v-3.5M273.4 301v3.5M273.4 301v-3.5M286.2 301v3.5M286.2 301v-3.5M299 301v6.6M299 301v-6.6M311.8 301v3.5M311.8 301v-3.5M324.6 301v3.5M324.6 301v-3.5M337.4 301v3.5M337.4 301v-3.5M350.2 301v3.5M350.2 301v-3.5M363 301v6.6M363 301v-6.6M375.8 301v3.5M375.8 301v-3.5M388.6 301v3.5M388.6 301v-3.5M401.4 301v3.5M401.4 301v-3.5M414.2 301v3.5M414.2 301v-3.5M427 301v6.6M427 301v-6.6M43 588.7v-6.6M55.8 588.7v-3.5M68.6 588.7v-3.5M81.4 588.7v-3.5M94.2 588.7v-3.5M107 588.7v-6.6M119.8 588.7v-3.5M132.6 588.7v-3.5M145.4 588.7v-3.5M158.2 588.7v-3.5M171 588.7v-6.6M183.8 588.7v-3.5M196.6 588.7v-3.5M209.4 588.7v-3.5M222.2 588.7v-3.5M235 588.7v-6.6M247.8 588.7v-3.5M260.6 588.7v-3.5M273.4 588.7v-3.5M286.2 588.7v-3.5M299 588.7v-6.6M311.8 588.7v-3.5M324.6 588.7v-3.5M337.4 588.7v-3.5M350.2 588.7v-3.5M363 588.7v-6.6M375.8 588.7v-3.5M388.6 588.7v-3.5M401.4 588.7v-3.5M414.2 588.7v-3.5M427 588.7v-6.6M43 301h6.6M427 301h-6.6M43 292.78h3.5M427 292.78h-3.5M43 284.56h3.5M427 284.56h-3.5M43 276.34h3.5M427 276.34h-3.5M43 268.12h3.5M427 268.12h-3.5M43 259.9h6.6M427 259.9h-6.6M43 251.68h3.5M427 251.68h-3.5M43 243.46h3.5M427 243.46h-3.5M43 235.24h3.5M427 235.24h-3.5M43 227.02h3.5M427 227.02h-3.5M43 218.8h6.6M427 218.8h-6.6M43 210.58h3.5M427 210.58h-3.5M43 202.36h3.5M427 202.36h-3.5M43 194.14h3.5M427 194.14h-3.5M43 185.92h3.5M427 185.92h-3.5M43 177.7h6.6M427 177.7h-6.6M43 169.48h3.5M427 169.48h-3.5M43 161.26h3.5M427 161.26h-3.5M43 153.04h3.5M427 153.04h-3.5M43 144.82h3.5M427 144.82h-3.5M43 136.6h6.6M427 136.6h-6.6M43 128.38h3.5M427 128.38h-3.5M43 120.16h3.5M427 120.16h-3.5M43 111.94h3.5M427 111.94h-3.5M43 103.72h3.5M427 103.72h-3.5M43 95.5h6.6M427 95.5h-6.6M43 87.28h3.5M427 87.28h-3.5M43 79.06h3.5M427 79.06h-3.5M43 70.84h3.5M427 70.84h-3.5M43 62.62h3.5M427 62.62h-3.5M43 54.4h6.6M427 54.4h-6.6M43 46.18h3.5M427 46.18h-3.5M43 37.96h3.5M427 37.96h-3.5M43 29.74h3.5M427 29.74h-3.5M43 21.52h3.5M427 21.52h-3.5M43 13.3h6.6M427 13.3h-6.6M43 588.7h6.6M427 588.7h-6.6M43 582.95h3.5M427 582.95h-3.5M43 577.19h3.5M427 577.19h-3.5M43 571.44h3.5M427 571.44h-3.5M43 565.68h3.5M427 565.68h-3.5M43 559.93h6.6M427 559.93h-6.6M43 554.18h3.5M427 554.18h-3.5M43 548.42h3.5M427 548.42h-3.5M43 542.67h3.5M427 542.67h-3.5M43 536.91h3.5M427 536.91h-3.5M43 531.16h6.6M427 531.16h-6.6M43 525.41h3.5M427 525.41h-3.5M43 519.65h3.5M427 519.65h-3.5M43 513.9h3.5M427 513.9h-3.5M43 508.14h3.5M427 508.14h-3.5M43 502.39h6.6M427 502.39h-6.6M43 496.64h3.5M427 496.64h-3.5M43 490.88h3.5M427 490.88h-3.5M43 485.13h3.5M427 485.13h-3.5M43 479.37h3.5M427 479.37h-3.5M43 473.62h6.6M427 473.62h-6.6M43 467.87h3.5M427 467.87h-3.5M43 462.11h3.5M427 462.11h-3.5M43 456.36h3.5M427 456.36h-3.5M43 450.6h3.5M427 450.6h-3.5M43 444.85h6.6M427 444.85h-6.6M43 439.1h3.5M427 439.1h-3.5M43 433.34h3.5M427 433.34h-3.5M43 427.59h3.5M427 427.59h-3.5M43 421.83h3.5M427 421.83h-3.5M43 416.08h6.6M427 416.08h-6.6M43 410.33h3.5M427 410.33h-3.5M43 404.57h3.5M427 404.57h-3.5M43 398.82h3.5M427 398.82h-3.5M43 393.06h3.5M427 393.06h-3.5M43 387.31h6.6M427 387.31h-6.6M43 381.56h3.5M427 381.56h-3.5M43 375.8h3.5M427 375.8h-3.5M43 370.05h3.5M427 370.05h-3.5M43 364.29h3.5M427 364.29h-3.5M43 358.54h6.6M427 358.54h-6.6M43 352.79h3.5M427 352.79h-3.5M43 347.03h3.5M427 347.03h-3.5M43 341.28h3.5M427 341.28h-3.5M43 335.52h3.5M427 335.52h-3.5M43 329.77h6.6M427 329.77h-6.6M43 324.02h3.5M427 324.02h-3.5M43 318.26h3.5M427 318.26h-3.5M43 312.51h3.5M427 312.51h-3.5M43 306.75h3.5M427 306.75h-3.5M43 301h6.6M427 301h-6.6" stroke="#000" stroke-width="1.3" fill="none"/>
<path d="M43 13.3H427V588.7H43Z M43 301H427" stroke="#000" stroke-width="1.1" fill="none" stroke-linejoin="miter"/>
<text x="41.8" y="304.8" font-size="14.1" text-anchor="end">9</text>
<text x="41.8" y="263.7" font-size="14.1" text-anchor="end">10</text>
<text x="41.8" y="222.6" font-size="14.1" text-anchor="end">11</text>
<text x="41.8" y="181.5" font-size="14.1" text-anchor="end">12</text>
<text x="41.8" y="140.4" font-size="14.1" text-anchor="end">13</text>
<text x="41.8" y="99.3" font-size="14.1" text-anchor="end">14</text>
<text x="41.8" y="58.2" font-size="14.1" text-anchor="end">15</text>
<text x="41.8" y="17.1" font-size="14.1" text-anchor="end">16</text>
<text x="41.6" y="592.7" font-size="14.1" text-anchor="end">0</text>
<text x="41.6" y="563.93" font-size="14.1" text-anchor="end">1</text>
<text x="41.6" y="535.16" font-size="14.1" text-anchor="end">2</text>
<text x="41.6" y="506.39" font-size="14.1" text-anchor="end">3</text>
<text x="41.6" y="477.62" font-size="14.1" text-anchor="end">4</text>
<text x="41.6" y="448.85" font-size="14.1" text-anchor="end">5</text>
<text x="41.6" y="420.08" font-size="14.1" text-anchor="end">6</text>
<text x="41.6" y="391.31" font-size="14.1" text-anchor="end">7</text>
<text x="41.6" y="362.54" font-size="14.1" text-anchor="end">8</text>
<text x="41.6" y="333.77" font-size="14.1" text-anchor="end">9</text>
<text x="43.4" y="603.6" font-size="14.1" text-anchor="middle" textLength="20.6" lengthAdjust="spacing">0.0</text>
<text x="107.4" y="603.6" font-size="14.1" text-anchor="middle" textLength="20.6" lengthAdjust="spacing">0.5</text>
<text x="171.4" y="603.6" font-size="14.1" text-anchor="middle" textLength="20.6" lengthAdjust="spacing">1.0</text>
<text x="235.4" y="603.6" font-size="14.1" text-anchor="middle" textLength="20.6" lengthAdjust="spacing">1.5</text>
<text x="299.4" y="603.6" font-size="14.1" text-anchor="middle" textLength="20.6" lengthAdjust="spacing">2.0</text>
<text x="363.4" y="603.6" font-size="14.1" text-anchor="middle" textLength="20.6" lengthAdjust="spacing">2.5</text>
<text x="427.4" y="603.6" font-size="14.1" text-anchor="middle" textLength="20.6" lengthAdjust="spacing">3.0</text>
<text x="212.2" y="620.7" class="m" font-style="italic" font-size="14.0" textLength="12.8" lengthAdjust="spacingAndGlyphs">M</text>
<text x="225.0" y="620.7" class="m" font-size="15.0">(</text>
<text x="230.2" y="620.7" class="m" font-style="italic" font-size="14.0" textLength="13.2" lengthAdjust="spacingAndGlyphs">M</text>
<circle cx="248.3" cy="621.9" r="3.2" fill="none" stroke="#000" stroke-width="0.75"/>
<circle cx="248.3" cy="621.9" r="0.75" fill="#000"/>
<text x="253.2" y="620.7" class="m" font-size="15.0">)</text>
<g transform="translate(17 179.5) rotate(-90)">
<text x="0.2" y="0" class="m" font-style="italic" font-size="15" textLength="9.6" lengthAdjust="spacingAndGlyphs">R</text>
<text x="13.8" y="0" font-size="14.2" textLength="31.8" lengthAdjust="spacing">(km)</text>
</g>
<g transform="translate(24.2 506.4) rotate(-90)">
<text x="0.4" y="0" class="m" font-style="italic" font-size="15.5" textLength="7.4" lengthAdjust="spacingAndGlyphs">λ</text>
<text x="12.8" y="0" font-size="14.2" textLength="23.2" lengthAdjust="spacing">(10</text>
<text x="36" y="-6.3" class="m" font-size="10.0" textLength="9" lengthAdjust="spacingAndGlyphs">36</text>
<text x="52.2" y="0" font-size="14.2">g</text>
<text x="65.8" y="0" font-size="14.2" textLength="19.8" lengthAdjust="spacing">cm</text>
<text x="85.6" y="-6.3" class="m" font-size="10.0" textLength="5.4" lengthAdjust="spacingAndGlyphs">2</text>
<text x="99.8" y="0" font-size="14.2">s</text>
<text x="106.2" y="-6.3" class="m" font-size="10.0" textLength="5.4" lengthAdjust="spacingAndGlyphs">2</text>
<text x="116" y="0" font-size="14.2">)</text>
</g>
</g>
</svg></body></html>
